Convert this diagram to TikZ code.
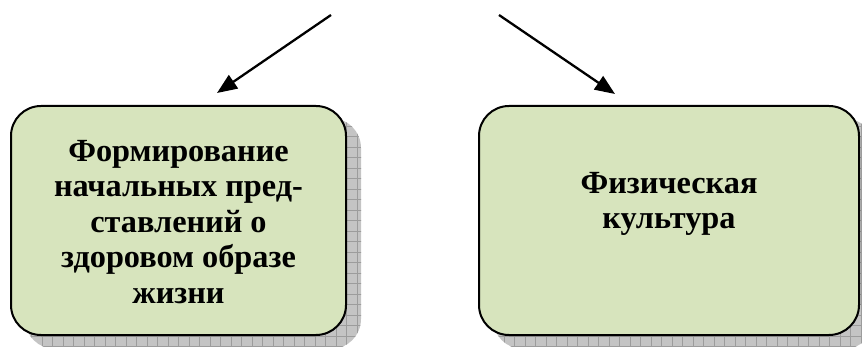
\documentclass[tikz,border=0pt]{standalone}
\usepackage{fontspec}
\setmainfont{Liberation Serif}
\usetikzlibrary{arrows.meta}
\definecolor{boxfill}{HTML}{D7E4BD}
\definecolor{shadefill}{HTML}{C4C4C4}
\definecolor{shadegrid}{HTML}{9C9C9C}
\tikzset{
  box/.style={draw=black, line width=2pt, fill=boxfill, rounded corners=30pt,
    minimum height=229pt, inner sep=0pt},
  lbl/.style={font=\bfseries\fontsize{32.3}{35.5}\selectfont, align=center, inner sep=0pt},
  arr/.style={line width=2.3pt, -{Triangle[length=20pt,width=16pt]}}
}
\begin{document}
\begin{tikzpicture}[x=1pt,y=-1pt]
\useasboundingbox (0,0) rectangle (862,347);
% shadows with grid texture
\begin{scope}
  \clip[rounded corners=30pt] (25,118) rectangle (361,349) (493,118) rectangle (874,349);
  \fill[shadefill] (0,0) rectangle (880,360);
  \draw[shadegrid, line width=0.8pt] (0,0) grid[step=10.5pt] (880,360);
\end{scope}
% boxes
\node[box, minimum width=335pt] (L) at (178.5,220.5) {};
\node[box, minimum width=380pt] (R) at (669,220.5) {};
% labels
\node[lbl] (Lt) at (178.5,222) {Формирование\\начальных пред-\\ставлений о\\здоровом образе\\жизни};
\node[lbl] (Rt) at (669,204) {Физическая\\культура};
% arrows
\coordinate (a1) at (331,15);
\coordinate (a1e) at (217,93);
\coordinate (a2) at (499,15);
\coordinate (a2e) at (615,94);
\draw[arr] (a1) -- (a1e);
\draw[arr] (a2) -- (a2e);
\end{tikzpicture}
\end{document}
